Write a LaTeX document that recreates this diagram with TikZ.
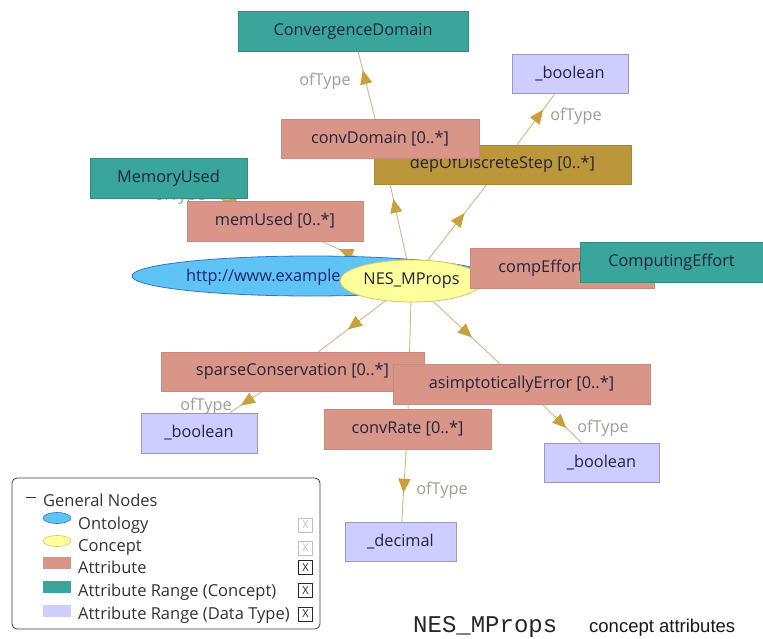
\documentclass[tikz,border=0pt]{standalone}
\usepackage{fontspec}
\setmainfont{Open Sans}
\newfontfamily\capmonofont{Liberation Mono}
\newfontfamily\capsansfont{Liberation Sans}
\usetikzlibrary{arrows.meta,decorations.markings,shapes.geometric}
\pgfdeclarelayer{bottom}
\pgfdeclarelayer{background}
\pgfsetlayers{bottom,background,main}
\definecolor{attrc}{RGB}{217,150,136}
\definecolor{rangec}{RGB}{58,166,155}
\definecolor{dtypec}{RGB}{205,205,255}
\definecolor{selc}{RGB}{187,150,58}
\definecolor{ontoc}{RGB}{95,195,245}
\definecolor{ontob}{RGB}{45,120,195}
\definecolor{conceptc}{RGB}{255,255,155}
\definecolor{conceptb}{RGB}{210,200,100}
\definecolor{edgec}{RGB}{205,185,130}
\definecolor{arrowc}{RGB}{200,160,60}
\definecolor{txtc}{RGB}{35,35,60}
\definecolor{ontotxt}{RGB}{25,40,110}
\definecolor{oftc}{RGB}{160,156,150}
\newcommand\nfont{\fontsize{16.3}{19}\selectfont}
\newcommand\lgfont{\fontsize{16.5}{19}\selectfont}
\begin{document}
\begin{tikzpicture}[x=1pt,y=-1pt,
  basebox/.style={rectangle, inner sep=0pt, font=\nfont, text=txtc, line width=0.5pt},
  attrbox/.style={basebox, fill=attrc, draw=attrc!92!black},
  rangebox/.style={basebox, fill=rangec, draw=rangec!85!black},
  dtypebox/.style={basebox, fill=dtypec, draw=dtypec!75!black},
  selbox/.style={basebox, fill=selc, draw=selc!90!black},
  ovalnode/.style={ellipse, inner sep=0pt, font=\nfont, line width=0.8pt},
  ontonode/.style={ovalnode, fill=ontoc, draw=ontob},
  conceptnode/.style={ovalnode, fill=conceptc, draw=conceptb, text=txtc},
  linkline/.style={draw=edgec, line width=0.9pt},
  midarrow/.style={postaction={decorate}, decoration={markings, mark=at position #1 with {\arrow[color=arrowc]{Triangle[length=14pt,width=12pt]}}}},
  oftype/.style={font=\nfont, text=oftc, inner sep=0pt},
  legtext/.style={font=\lgfont, text=black!80, inner sep=0pt, anchor=base west},
  chkon/.style={draw=black!85, line width=0.7pt, minimum size=14pt, inner sep=0pt, font=\fontsize{11}{11}\selectfont, text=black!85},
  chkoff/.style={chkon, draw=black!25, text=black!25},
  legicon/.style={inner sep=0pt, line width=0.6pt},
]
\useasboundingbox (0,0) rectangle (763,639);
\begin{pgfonlayer}{bottom}
\fill[white] (0,0) rectangle (763,639);
\end{pgfonlayer}

% ontology and concept
\node[ontonode, minimum width=358pt, minimum height=40pt] (onto) at (311,276) {};
\node[anchor=west, font=\nfont, text=ontotxt, inner sep=0pt] (ontotext) at (186,277) {http://www.example};
\node[conceptnode, minimum width=143pt, minimum height=42pt] (concept) at (411.5,281) {NES\_MProps};

\node[attrbox, minimum width=184pt, minimum height=40pt] (compEffort) at (562,268) {compEffort [0..*]};
\node[rangebox, minimum width=183pt, minimum height=40pt] (CE) at (671.5,262) {ComputingEffort};

\node[selbox, minimum width=257pt, minimum height=39pt] (dep) at (502.5,164.5) {depOfDiscreteStep [0..*]};
\node[attrbox, minimum width=198pt, minimum height=39pt] (convDomain) at (380,138.5) {convDomain [0..*]};

\node[oftype] (L3) at (180,196) {ofType};
\node[rangebox, minimum width=157pt, minimum height=40pt] (MU) at (168.5,178) {MemoryUsed};
\node[attrbox, minimum width=176pt, minimum height=40pt] (memUsed) at (275,221) {memUsed [0..*]};

\node[rangebox, minimum width=230pt, minimum height=40pt] (CD) at (353,31) {ConvergenceDomain};
\node[dtypebox, minimum width=116pt, minimum height=39pt] (B1) at (570,73.5) {\_boolean};
\node[oftype] (L1) at (325,81) {ofType};
\node[oftype] (L2) at (576,116) {ofType};

\node[attrbox, minimum width=263pt, minimum height=39pt] (sparse) at (292.5,371.5) {sparseConservation [0..*]};
\node[attrbox, minimum width=257pt, minimum height=40pt] (asimp) at (521.5,384) {asimptoticallyError [0..*]};
\node[attrbox, minimum width=167pt, minimum height=40pt] (convRate) at (407.5,429) {convRate [0..*]};

\node[dtypebox, minimum width=116pt, minimum height=40pt] (B2) at (199,433) {\_boolean};
\node[dtypebox, minimum width=115pt, minimum height=39pt] (B3) at (601.5,462.5) {\_boolean};
\node[dtypebox, minimum width=111pt, minimum height=39pt] (decimal) at (400.5,541.5) {\_decimal};
\node[oftype] (L4) at (206,406) {ofType};
\node[oftype] (L5) at (603,428) {ofType};
\node[oftype] (L6) at (442,490) {ofType};

% connectors
\begin{pgfonlayer}{background}
\draw[linkline, midarrow=0.6] (concept) -- (convDomain);
\draw[linkline, midarrow=0.62] (concept) -- (dep);
\draw[linkline, midarrow=0.64] (concept) -- (memUsed);
\draw[linkline, midarrow=0.56] (concept) -- (sparse);
\draw[linkline, midarrow=0.58] (concept) -- (asimp);
\draw[linkline] (concept) -- (convRate);
\draw[linkline, midarrow=0.72] (convDomain) -- (CD);
\draw[linkline, midarrow=0.68] (dep) -- (B1);
\draw[linkline, midarrow=0.5] (memUsed) -- (MU);
\draw[linkline, midarrow=0.66] (sparse) -- (B2);
\draw[linkline, midarrow=0.62] (asimp) -- (B3);
\draw[linkline, midarrow=0.6] (convRate) -- (decimal);
\end{pgfonlayer}

% legend
\node[draw=black!75, line width=0.8pt, rounded corners=5pt, minimum width=308pt, minimum height=151pt, inner sep=0pt] (legend) at (166,553.5) {};
\draw[black!80, line width=0.8pt] (26,497) -- (36,497);
\node[legtext] (lg0) at (43,506) {General Nodes};
\node[legicon, ellipse, fill=ontoc, draw=ontob, minimum width=28pt, minimum height=11pt] (ic1) at (57,518) {};
\node[legtext] (lg1) at (78,529) {Ontology};
\node[legicon, ellipse, fill=conceptc, draw=conceptb, minimum width=28pt, minimum height=11pt] (ic2) at (57,541) {};
\node[legtext] (lg2) at (78,551.5) {Concept};
\node[legicon, rectangle, fill=attrc, minimum width=28pt, minimum height=12pt] (ic3) at (57,563) {};
\node[legtext] (lg3) at (78,573.5) {Attribute};
\node[legicon, rectangle, fill=rangec, minimum width=28pt, minimum height=12pt] (ic4) at (57,587) {};
\node[legtext] (lg4) at (78,596.5) {Attribute Range (Concept)};
\node[legicon, rectangle, fill=dtypec, minimum width=28pt, minimum height=12pt] (ic5) at (57,610.5) {};
\node[legtext] (lg5) at (78,619.5) {Attribute Range (Data Type)};
\node[chkoff] (cb1) at (305.5,525) {X};
\node[chkoff] (cb2) at (305.5,548) {X};
\node[chkon] (cb3) at (305.5,567.5) {X};
\node[chkon] (cb4) at (305.5,590.5) {X};
\node[chkon] (cb5) at (305.5,614) {X};

% caption
\node[anchor=base west, inner sep=0pt, font=\capmonofont\fontsize{24}{25}\selectfont, text=black!85] (capmono) at (413,632) {NES\_MProps};
\node[anchor=base west, inner sep=0pt, font=\capsansfont\fontsize{18.5}{22}\selectfont, text=black!90] (captext) at (589,632) {concept attributes};
\end{tikzpicture}
\end{document}
